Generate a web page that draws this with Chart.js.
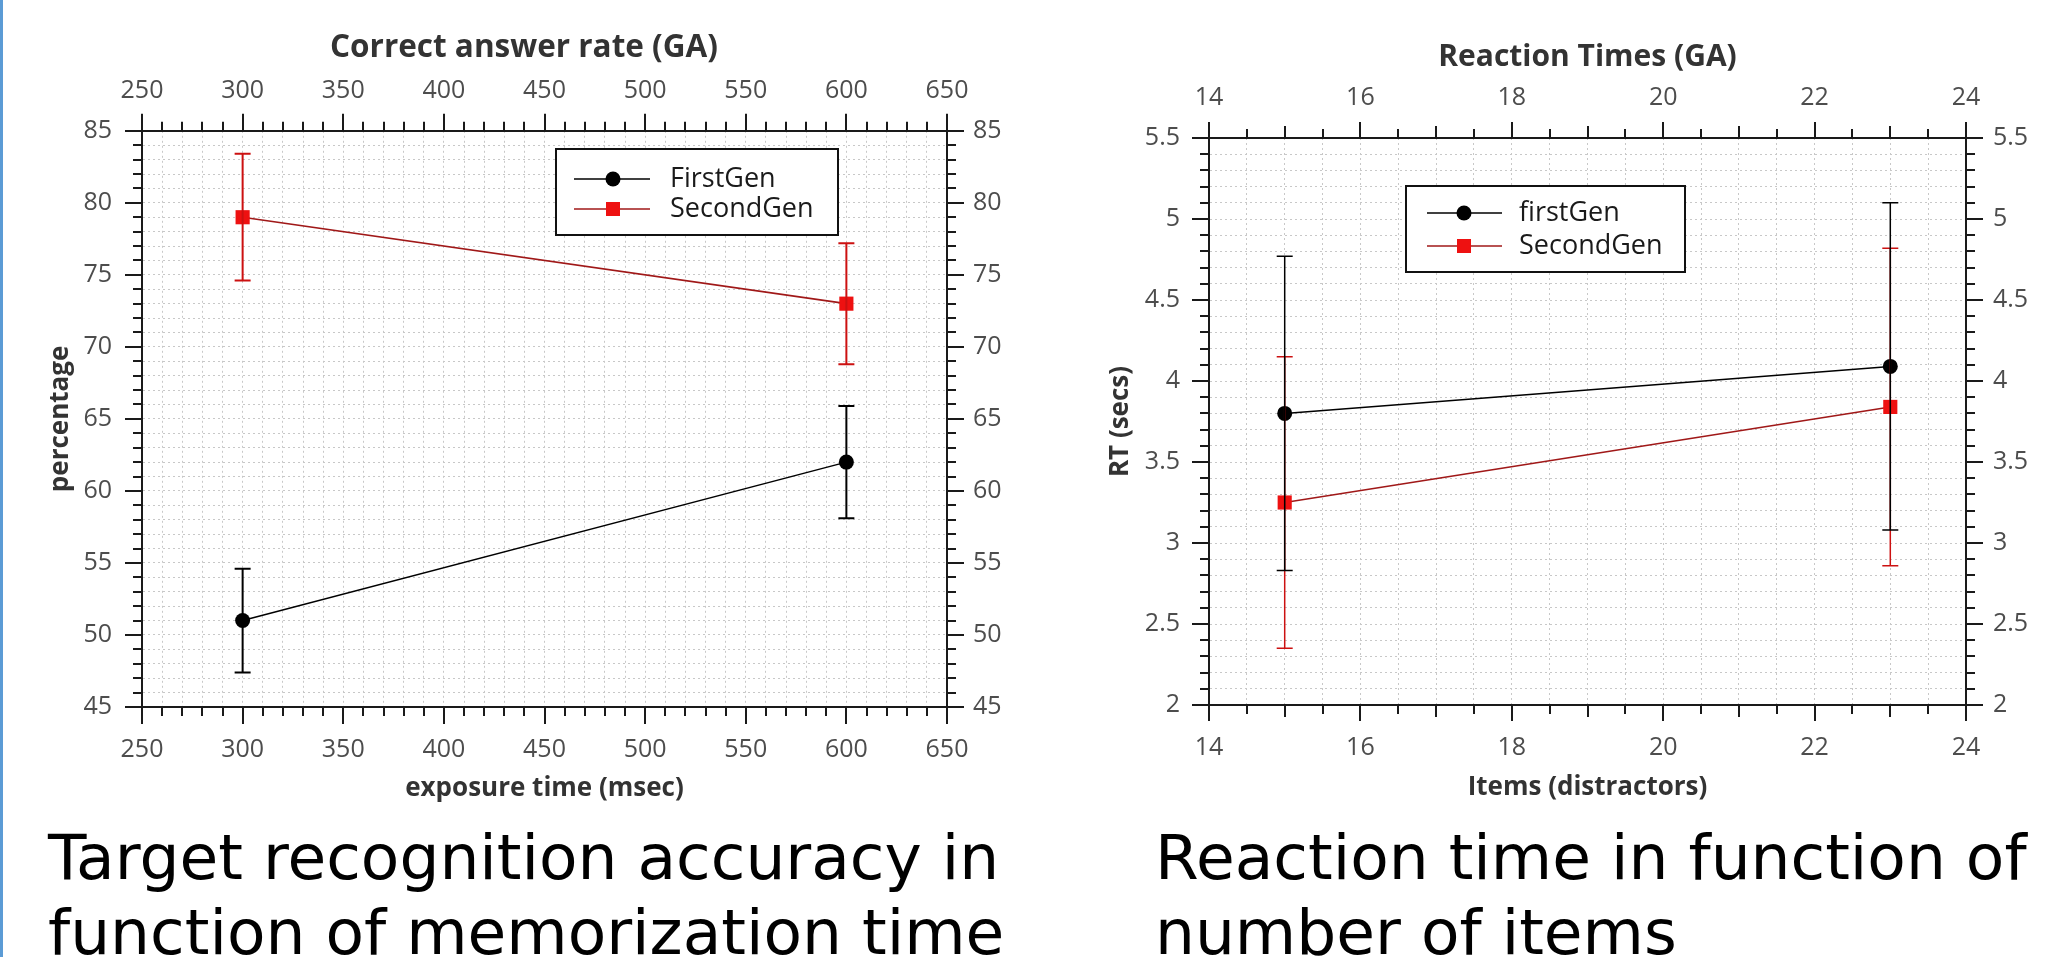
<!DOCTYPE html>
<html><head><meta charset="utf-8">
<script src="https://cdn.jsdelivr.net/npm/chart.js@4/dist/chart.umd.min.js"></script>
<style>
html,body{margin:0;padding:0;background:#fff;width:2048px;height:957px;overflow:hidden;position:relative;}
#edge{position:absolute;left:0;top:0;width:3px;height:957px;background:#5b9bd5;}
canvas{position:absolute;top:0;}
.cap{position:absolute;font-family:"DejaVu Sans";font-size:63px;line-height:75px;color:#000;white-space:nowrap;}
</style></head>
<body>
<div id="edge"></div>
<canvas id="c1" width="1048" height="830" style="left:0px;width:1048px;height:830px"></canvas>
<canvas id="c2" width="998" height="830" style="left:1050px;width:998px;height:830px"></canvas>
<div class="cap" style="left:48px;top:820px">Target recognition accuracy in<br>function of memorization time</div>
<div class="cap" style="left:1155px;top:820px">Reaction time in function of<br>number of items</div>
<script>
// ---------- Chart A: Correct answer rate (GA) ----------
const exposureTimes = [300, 600];
const firstGenRate = [51, 62];
const firstGenRateErr = [3.6, 3.9];
const secondGenRate = [79, 73];
const secondGenRateErr = [4.4, 4.2];
const rateXTicks = [250, 300, 350, 400, 450, 500, 550, 600, 650];
const rateYTicks = [45, 50, 55, 60, 65, 70, 75, 80, 85];
const rateSeriesNames = ['FirstGen', 'SecondGen'];

// ---------- Chart B: Reaction Times (GA) ----------
const itemCounts = [15, 23];
const firstGenRT = [3.8, 4.09];
const firstGenRTErr = [0.97, 1.01];
const secondGenRT = [3.25, 3.84];
const secondGenRTErr = [0.9, 0.98];
const rtXTicks = [14, 16, 18, 20, 22, 24];
const rtYTicks = [2, 2.5, 3, 3.5, 4, 4.5, 5, 5.5];
const rtSeriesNames = ['firstGen', 'SecondGen'];

const BLACK = '#000000';
const RED_LINE = '#a01818';
const RED_MARK = '#ee1111';
const RED_ERR = '#cc1111';
const TICK_COLOR = '#4d4d4d';
const TITLE_COLOR = '#333333';
const AXIS_COLOR = '#1a1a1a';
const GRID_COLOR = '#c8c8c8';

function has(list, v) { return list.some(t => Math.abs(t - v) < 1e-6); }
function isMult(v, m) { return Math.abs(v / m - Math.round(v / m)) < 1e-6; }
function pts(xs, ys) { return xs.map((x, i) => ({x: x, y: ys[i]})); }

function makeErrorPlugin(cap, width) {
  return {
    id: 'errorBars',
    afterDatasetsDraw(chart) {
      const ctx = chart.ctx, xs = chart.scales.x, ys = chart.scales.y;
      const order = chart.data.datasets.map((d, i) => i).reverse();
      ctx.save();
      ctx.lineWidth = width;
      for (const i of order) {
        const ds = chart.data.datasets[i];
        ctx.strokeStyle = ds.errorColor;
        ds.data.forEach((p, j) => {
          const e = ds.errors[j];
          const x = xs.getPixelForValue(p.x);
          const y1 = ys.getPixelForValue(p.y + e);
          const y2 = ys.getPixelForValue(p.y - e);
          ctx.beginPath();
          ctx.moveTo(x, y1); ctx.lineTo(x, y2);
          ctx.moveTo(x - cap, y1); ctx.lineTo(x + cap, y1);
          ctx.moveTo(x - cap, y2); ctx.lineTo(x + cap, y2);
          ctx.stroke();
        });
      }
      ctx.restore();
    }
  };
}

function makeTickPlugin(xLen, yLen) {
  return {
    id: 'tickMarks',
    afterDraw(chart) {
      const ctx = chart.ctx, a = chart.chartArea;
      ctx.save();
      ctx.strokeStyle = AXIS_COLOR;
      ctx.lineWidth = 2;
      ctx.beginPath();
      chart.scales.x.ticks.forEach(t => {
        const px = Math.round(chart.scales.x.getPixelForValue(t.value));
        const L = xLen(t.value);
        ctx.moveTo(px, a.bottom); ctx.lineTo(px, a.bottom + L);
        ctx.moveTo(px, a.top); ctx.lineTo(px, a.top - L);
      });
      chart.scales.y.ticks.forEach(t => {
        const py = Math.round(chart.scales.y.getPixelForValue(t.value));
        const L = yLen(t.value);
        ctx.moveTo(a.left, py); ctx.lineTo(a.left - L, py);
        ctx.moveTo(a.right, py); ctx.lineTo(a.right + L, py);
      });
      ctx.stroke();
      ctx.restore();
    }
  };
}

function makeLegendPlugin(box, rows, lineX, markX, textX) {
  return {
    id: 'boxLegend',
    afterDraw(chart) {
      const ctx = chart.ctx;
      ctx.save();
      ctx.fillStyle = '#ffffff';
      ctx.fillRect(box[0], box[1], box[2] - box[0], box[3] - box[1]);
      ctx.strokeStyle = '#111111';
      ctx.lineWidth = 2;
      ctx.strokeRect(box[0], box[1], box[2] - box[0], box[3] - box[1]);
      chart.data.datasets.forEach((ds, i) => {
        const y = rows[i];
        ctx.strokeStyle = ds.borderColor;
        ctx.lineWidth = 1.5;
        ctx.beginPath(); ctx.moveTo(lineX[0], y); ctx.lineTo(lineX[1], y); ctx.stroke();
        ctx.fillStyle = ds.pointBackgroundColor;
        if (ds.pointStyle === 'circle') {
          ctx.beginPath(); ctx.arc(markX, y, 7.5, 0, Math.PI * 2); ctx.fill();
        } else {
          ctx.fillRect(markX - 7, y - 7, 14, 14);
        }
        ctx.fillStyle = '#1a1a1a';
        ctx.font = '27px "Open Sans"';
        ctx.textBaseline = 'middle';
        ctx.textAlign = 'left';
        ctx.fillText(ds.label, textX, y);
      });
      ctx.restore();
    }
  };
}

const tickFont = {family: 'Open Sans', size: 25, lineHeight: 1.2};
const axisTitleFont = {family: 'Open Sans', size: 26, weight: 'bold', lineHeight: 1.2};
const chartTitleFontA = {family: 'Open Sans', size: 31.5, weight: 'bold', lineHeight: 1.2};
const chartTitleFontB = {family: 'Open Sans', size: 30, weight: 'bold', lineHeight: 1.2};

function blackDataset(label, data, errs) {
  return {
    label: label, data: data, errors: errs, errorColor: BLACK,
    borderColor: BLACK, borderWidth: 1.5, backgroundColor: BLACK,
    pointStyle: 'circle', pointRadius: 7.5, pointBackgroundColor: BLACK,
    pointBorderColor: BLACK, pointBorderWidth: 0, tension: 0, clip: false
  };
}
function redDataset(label, data, errs) {
  return {
    label: label, data: data, errors: errs, errorColor: RED_ERR,
    borderColor: RED_LINE, borderWidth: 1.6, backgroundColor: RED_MARK,
    pointStyle: 'rect', pointRadius: 10, pointBackgroundColor: RED_MARK,
    pointBorderColor: '#c00000', pointBorderWidth: 0, tension: 0, clip: false
  };
}

function xScale(pos, min, max, step, labels, padding, fitH, title, titlePad) {
  return {
    type: 'linear', position: pos, display: true, min: min, max: max,
    grid: {display: pos === 'bottom', color: GRID_COLOR, lineWidth: 1, drawTicks: false},
    border: {display: true, color: AXIS_COLOR, width: 2, dash: [2, 3]},
    ticks: {stepSize: step, autoSkip: false, maxRotation: 0, minRotation: 0, padding: padding,
      color: TICK_COLOR, font: tickFont,
      callback: (v) => has(labels, v) ? String(+Number(v).toFixed(2)) : ''},
    title: title ? {display: true, text: title.text, color: TITLE_COLOR, font: title.font, padding: titlePad} : {display: false},
    afterFit: (s) => { s.height = fitH; }
  };
}
function yScale(pos, min, max, step, labels, padding, fitW, title, titlePad) {
  return {
    type: 'linear', position: pos, display: true, min: min, max: max,
    grid: {display: pos === 'left', color: GRID_COLOR, lineWidth: 1, drawTicks: false},
    border: {display: true, color: AXIS_COLOR, width: 2, dash: [2, 3]},
    ticks: {stepSize: step, autoSkip: false, padding: padding,
      color: TICK_COLOR, font: tickFont,
      callback: (v) => has(labels, v) ? String(+Number(v).toFixed(2)) : ''},
    title: title ? {display: true, text: title.text, color: TITLE_COLOR, font: title.font, padding: titlePad} : {display: false},
    afterFit: (s) => { s.width = fitW; }
  };
}

// ----- Chart A -----
new Chart(document.getElementById('c1'), {
  type: 'line',
  data: {
    datasets: [
      blackDataset(rateSeriesNames[0], pts(exposureTimes, firstGenRate), firstGenRateErr),
      redDataset(rateSeriesNames[1], pts(exposureTimes, secondGenRate), secondGenRateErr)
    ]
  },
  options: {
    responsive: false, animation: false, devicePixelRatio: 1,
    layout: {padding: 0, autoPadding: false},
    plugins: {
      legend: {display: false}, tooltip: {enabled: false},
      title: {display: true, text: 'Correct answer rate (GA)', color: TITLE_COLOR, font: chartTitleFontA,
        padding: {top: 29, bottom: 0}}
    },
    scales: {
      x: xScale('bottom', 250, 650, 10, rateXTicks, 28, 123,
        {text: 'exposure time (msec)', font: axisTitleFont}, {top: 0, bottom: 26}),
      x2: xScale('top', 250, 650, 10, rateXTicks, 25, 64, null, 0),
      y: yScale('left', 45, 85, 1, rateYTicks, 30, 142,
        {text: 'percentage', font: axisTitleFont}, {top: 45, bottom: 0}),
      y2: yScale('right', 45, 85, 1, rateYTicks, 26, 101, null, 0)
    }
  },
  plugins: [
    makeErrorPlugin(8, 2),
    makeTickPlugin(v => isMult(v, 50) ? 17 : 9, v => isMult(v, 5) ? 17 : 9),
    makeLegendPlugin([556, 149, 838, 235], [179, 209], [574, 650], 613, 670)
  ]
});

// ----- Chart B -----
new Chart(document.getElementById('c2'), {
  type: 'line',
  data: {
    datasets: [
      blackDataset(rtSeriesNames[0], pts(itemCounts, firstGenRT), firstGenRTErr),
      redDataset(rtSeriesNames[1], pts(itemCounts, secondGenRT), secondGenRTErr)
    ]
  },
  options: {
    responsive: false, animation: false, devicePixelRatio: 1,
    layout: {padding: 0, autoPadding: false},
    plugins: {legend: {display: false}, tooltip: {enabled: false}, title: {display: false}},
    scales: {
      x: xScale('bottom', 14, 24, 0.5, rtXTicks, 28, 125,
        {text: 'Items (distractors)', font: axisTitleFont}, {top: 0, bottom: 27}),
      x2: xScale('top', 14, 24, 0.5, rtXTicks, 25, 138,
        {text: 'Reaction Times (GA)', font: chartTitleFontB}, {top: 39, bottom: 0}),
      y: yScale('left', 2, 5.5, 0.1, rtYTicks, 29, 159,
        {text: 'RT (secs)', font: axisTitleFont}, {top: 55, bottom: 0}),
      y2: yScale('right', 2, 5.5, 0.1, rtYTicks, 27, 82, null, 0)
    }
  },
  plugins: [
    makeErrorPlugin(8, 1.5),
    makeTickPlugin(v => isMult(v, 2) ? 16 : (isMult(v, 1) ? 12 : 9), v => isMult(v, 0.5) ? 17 : 9),
    makeLegendPlugin([356, 186, 635, 272], [213, 246], [377, 452], 414, 469)
  ]
});
</script>
</body></html>
